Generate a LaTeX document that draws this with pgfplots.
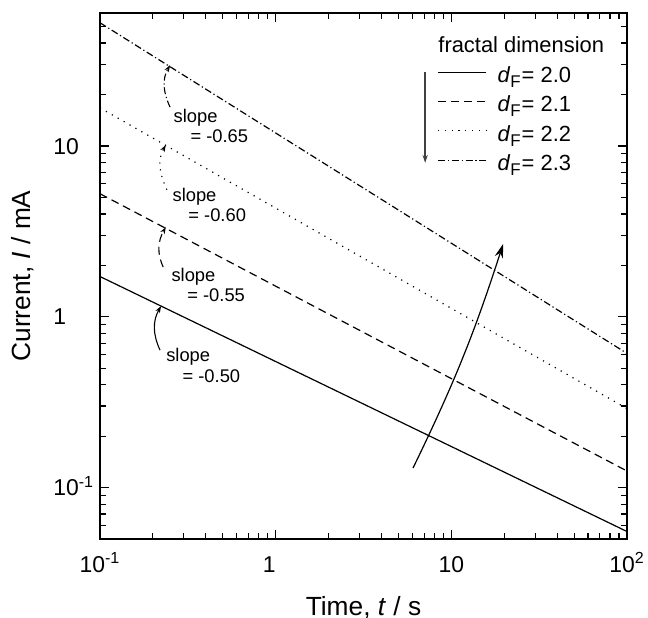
\documentclass[border=0pt]{standalone}
\usepackage{fontspec}
\setmainfont{Liberation Sans}
\usepackage{pgfplots}
\usepackage{pgfplotstable}
\pgfplotsset{compat=1.18}
\usetikzlibrary{arrows.meta}

\pgfplotstableread{
x y
0.1 1.72
100 0.0553
}\dA
\pgfplotstableread{
x y
0.1 5.25
100 0.125
}\dB
\pgfplotstableread{
x y
0.1 16.7
100 0.29
}\dC
\pgfplotstableread{
x y
0.1 52.6
100 0.61
}\dD

\newcommand{\dF}[1]{\textit{d}\raisebox{-0.45ex}{\fontsize{8.5}{9}\selectfont F}\kern0.5bp= #1}

\tikzset{
  dashA/.style={dash pattern=on 4bp off 2.5bp},
  dotA/.style={dash pattern=on 0.6bp off 2.8bp},
  dashdotA/.style={dash pattern=on 3.5bp off 1.4bp on 0.6bp off 1.4bp},
  slopefont/.style={anchor=base west, inner sep=0pt, font=\fontsize{9.2}{11}\selectfont},
  sarrow/.style={line width=0.55bp, -{Stealth[length=3.5bp,width=2.4bp]}},
}

\begin{document}
\begin{tikzpicture}
\begin{axis}[
  name=ax,
  xmode=log, ymode=log,
  scale only axis, width=263.5bp, height=263bp,
  xmin=0.1, xmax=100, ymin=0.05, ymax=60,
  xtick={0.1,1,10,100},
  xticklabels={10\textsuperscript{-1},1\phantom{0},10,10\textsuperscript{2}},
  ytick={0.1,1,10},
  yticklabels={10\textsuperscript{-1},1,10},
  minor xtick={0.2,0.3,0.4,0.5,0.6,0.7,0.8,0.9,2,3,4,5,6,7,8,9,20,30,40,50,60,70,80,90},
  minor ytick={0.05,0.06,0.07,0.08,0.09,0.2,0.3,0.4,0.5,0.6,0.7,0.8,0.9,2,3,4,5,6,7,8,9,20,30,40,50},
  tick align=inside,
  major tick length=4.5bp, minor tick length=2.8bp,
  axis line style={line width=0.75bp},
  every tick/.style={black, line width=0.6bp},
  ticklabel style={font=\fontsize{11.5}{13}\selectfont, inner sep=0pt},
  xticklabel style={anchor=base, yshift=-16.5bp},
  yticklabel style={anchor=base west, xshift=-23.5bp, yshift=-4.1bp},
  xlabel={Time, \textit{t} / s},
  ylabel={Current, \textit{I} / mA},
  every axis x label/.style={at={(axis description cs:0.5,0)}, anchor=base, yshift=-38bp, inner sep=0pt, font=\fontsize{13.2}{15}\selectfont},
  every axis y label/.style={at={(axis description cs:0,0.5)}, xshift=-34.5bp, rotate=90, anchor=base, inner sep=0pt, font=\fontsize{13.2}{15}\selectfont},
  legend style={draw=none, fill=none, at={(0.6395,0.916)}, anchor=north west,
    inner sep=0pt, row sep=0pt, column sep=5.5bp,
    font=\fontsize{11}{13}\selectfont,
    nodes={inner sep=0pt, text height=12.43bp, text depth=2.22bp}},
  legend cell align=left,
  legend image code/.code={\draw[#1] (0bp,0bp) -- (24bp,0bp);},
]
\addplot[black, line width=0.6bp] table {\dA};
\addlegendentry{\dF{2.0}}
\addplot[black, line width=0.6bp, dashA] table {\dB};
\addlegendentry{\dF{2.1}}
\addplot[black, line width=0.6bp, dotA] table {\dC};
\addlegendentry{\dF{2.2}}
\addplot[black, line width=0.6bp, dashdotA] table {\dD};
\addlegendentry{\dF{2.3}}

% legend title and arrow
\node[anchor=base west, inner sep=0pt, font=\fontsize{11}{13}\selectfont] at (rel axis cs:0.6414,0.924) {fractal dimension};
\draw[black!75, line width=0.7bp, -{Stealth[length=4bp,width=2.6bp]}] (rel axis cs:0.617,0.888) -- (rel axis cs:0.617,0.715);

% big arrow
\draw[black, line width=0.6bp, -{Stealth[length=7bp,width=4.2bp]}] (rel axis cs:0.594,0.135) to[bend right=4] (rel axis cs:0.765,0.561);

% slope annotations
\draw[sarrow, dashdotA] (rel axis cs:0.133,0.821) to[out=115,in=-120] (rel axis cs:0.133,0.901);
\node[slopefont] at (rel axis cs:0.139,0.791) {slope};
\node[slopefont] at (rel axis cs:0.171,0.753) {= -0.65};

\draw[sarrow, dotA] (rel axis cs:0.127,0.664) to[out=115,in=-120] (rel axis cs:0.125,0.749);
\node[slopefont] at (rel axis cs:0.137,0.641) {slope};
\node[slopefont] at (rel axis cs:0.167,0.603) {= -0.60};

\draw[sarrow, dashA] (rel axis cs:0.120,0.517) to[out=115,in=-120] (rel axis cs:0.125,0.593);
\node[slopefont] at (rel axis cs:0.135,0.490) {slope};
\node[slopefont] at (rel axis cs:0.165,0.451) {= -0.55};

\draw[sarrow] (rel axis cs:0.114,0.359) to[out=115,in=-120] (rel axis cs:0.116,0.443);
\node[slopefont] at (rel axis cs:0.125,0.338) {slope};
\node[slopefont] at (rel axis cs:0.156,0.298) {= -0.50};
\end{axis}
\pgfresetboundingbox
\path ([shift={(-50bp,-39.5bp)}]ax.south west) rectangle ([shift={(10.5bp,6.5bp)}]ax.north east);
\end{tikzpicture}
\end{document}
